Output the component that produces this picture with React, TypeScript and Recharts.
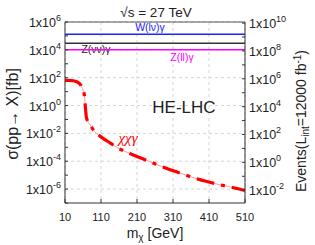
import React from "react";
import {
  CartesianGrid,
  ComposedChart,
  Line,
  ReferenceLine,
  XAxis,
  YAxis,
} from "recharts";

// dark matter mass (GeV) and chi chi gamma cross section (fb)
const mChi = [
  10, 20, 30, 40, 50, 55, 60, 64, 67, 69, 73, 78, 85, 92, 100, 110, 120, 135,
  156, 190, 226, 260, 293, 323, 360, 399, 435, 470, 501, 510,
];
const sigmaChi = [
  65, 64, 61, 54, 38, 26, 13, 5, 0.6, 0.16, 0.075, 0.048, 0.025, 0.014,
  0.0088, 0.0056, 0.0037, 0.0021, 9.3e-4, 3.6e-4, 1.5e-4, 6.5e-5, 3.0e-5,
  1.6e-5, 7.5e-6, 3.8e-6, 2.2e-6, 1.4e-6, 9e-7, 8e-7,
];

// SM backgrounds (fb)
const bgLabels = ["W(lν)γ", "Z(νν)γ", "Z(ll)γ"];
const bgSigma = [1.3e5, 3.0e4, 1.0e4];

const lumi = 12000; // fb^-1
const xTicks = [10, 110, 210, 310, 410, 510];
const yGrid = [1e-6, 1e-4, 1e-2, 1, 1e2, 1e4, 1e6];
const yTicks = [1e-7, 1e-6, 1e-5, 1e-4, 1e-3, 1e-2, 0.1, 1, 10, 1e2, 1e3, 1e4, 1e5, 1e6];
const eventTicks = [1e-2, 0.1, 1, 10, 1e2, 1e3, 1e4, 1e5, 1e6, 1e7, 1e8, 1e9, 1e10];

const data = mChi.map((m, i) => ({ m, sigma: sigmaChi[i] }));

const FONT = "'Liberation Sans', Arial, sans-serif";

function PowTick({ x, y, payload, anchor, dx }: any) {
  const e = Math.round(Math.log10(payload.value));
  if (e % 2 !== 0) return <g />;
  return (
    <text
      x={x + dx}
      y={y + 5}
      textAnchor={anchor}
      fontSize={12.5}
      fontFamily={FONT}
      fill="#222"
    >
      <tspan>1x10</tspan>
      <tspan dy={-6} fontSize={9}>
        {e}
      </tspan>
    </text>
  );
}

export default function App() {
  return (
    <div style={{ position: "absolute", left: 0, top: 0, background: "#fff" }}>
      <ComposedChart
        width={315}
        height={245}
        data={data}
        margin={{ top: 22, right: 0, bottom: 0, left: 0 }}
      >
        <CartesianGrid
          stroke="#d4d4d4"
          strokeDasharray="3 3"
          horizontalValues={yGrid}
        />
        <XAxis
          dataKey="m"
          type="number"
          domain={[10, 510]}
          ticks={xTicks}
          height={42}
          tickSize={-4}
          tickMargin={14}
          stroke="#333"
          tick={{ fontSize: 11, fill: "#222", fontFamily: FONT }}
        />
        <YAxis
          scale="log"
          type="number"
          domain={[1e-7, 1e6]}
          allowDataOverflow
          ticks={yTicks}
          interval={0}
          width={65}
          tickSize={-3}
          tickMargin={2}
          stroke="#333"
          tick={<PowTick anchor="end" dx={-5} />}
        />
        <YAxis
          yAxisId="r"
          orientation="right"
          scale="log"
          type="number"
          domain={[1e-7 * lumi, 1e6 * lumi]}
          allowDataOverflow
          ticks={eventTicks}
          interval={0}
          width={70}
          tickSize={-3}
          tickMargin={2}
          stroke="#333"
          tick={<PowTick anchor="start" dx={5} />}
        />
        <ReferenceLine y={1e6} stroke="#555" />
        <ReferenceLine y={bgSigma[0]} stroke="#2020ff" strokeWidth={1.5} />
        <ReferenceLine y={bgSigma[1]} stroke="#333" strokeWidth={1.5} />
        <ReferenceLine y={bgSigma[2]} stroke="#ff00ff" strokeWidth={1.5} />
        <Line
          dataKey="sigma"
          type="monotone"
          stroke="#ff9a9a"
          strokeWidth={1}
          dot={false}
          isAnimationActive={false}
        />
        <Line
          dataKey="sigma"
          type="monotone"
          stroke="#ff0000"
          strokeWidth={3.2}
          strokeDasharray="18 7 4 7"
          dot={false}
          isAnimationActive={false}
        />
        <text x={150} y={31} textAnchor="middle" fontSize={10.5} fontFamily={FONT} fill="#2020ff">
          {bgLabels[0]}
        </text>
        <text x={96} y={53} textAnchor="middle" fontSize={10.5} fontFamily={FONT} fill="#222">
          {bgLabels[1]}
        </text>
        <text x={182} y={61} textAnchor="middle" fontSize={10.5} fontFamily={FONT} fill="#ff00ff">
          {bgLabels[2]}
        </text>
        <text x={156} y={17} textAnchor="middle" fontSize={13.5} fontFamily={FONT} fill="#222">
          √s = 27 TeV
        </text>
        <text x={184} y={113} textAnchor="middle" fontSize={17} fontFamily={FONT} fill="#222">
          HE-LHC
        </text>
        <text
          x={128}
          y={143}
          textAnchor="middle"
          fontSize={15}
          fontStyle="italic"
          fontFamily="'Liberation Serif', serif"
          fill="#ff0000"
        >
          χχγ
        </text>
        <text x={155} y={238} textAnchor="middle" fontSize={14} fontFamily={FONT} fill="#222">
          m<tspan dy={3} fontSize={10}>χ</tspan>
          <tspan dy={-3}> [GeV]</tspan>
        </text>
        <text
          transform="translate(18,114) rotate(-90)"
          textAnchor="middle"
          fontSize={16}
          fontFamily={FONT}
          fill="#222"
        >
          σ(pp→ X)[fb]
        </text>
        <text
          transform="translate(306,121) rotate(-90)"
          textAnchor="middle"
          fontSize={14}
          fontFamily={FONT}
          fill="#222"
        >
          Events(L<tspan dy={3} fontSize={10}>int</tspan>
          <tspan dy={-3}>=12000 fb</tspan>
          <tspan dy={-5} fontSize={10}>-1</tspan>
          <tspan dy={5}>)</tspan>
        </text>
      </ComposedChart>
    </div>
  );
}
